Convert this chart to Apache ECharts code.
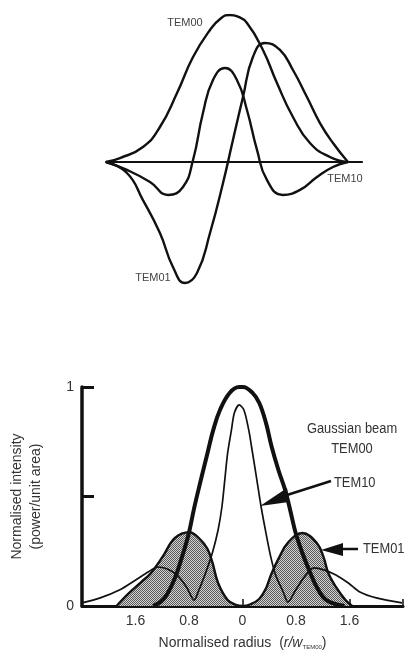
<!DOCTYPE html>
<html><head><meta charset="utf-8">
<script src="https://cdn.jsdelivr.net/npm/echarts@6/dist/echarts.min.js"></script>
<style>html,body{margin:0;padding:0;background:#fff}#c{width:406px;height:654px}</style>
</head><body><div id="c"></div>
<script>
// ---- Top chart: field amplitude profiles (x: normalised position, y: amplitude)
const topTEM00 = [[-1,0],[-0.887,0.027],[-0.702,0.102],[-0.565,0.238],[-0.427,0.469],[-0.298,0.714],[-0.161,0.898],[-0.07,0.98],[0,1.0],[0.06,0.99],[0.137,0.946],[0.266,0.762],[0.379,0.537],[0.508,0.306],[0.645,0.129],[0.806,0.034],[0.952,0]];
const topTEM01 = [[-1,0],[-0.831,-0.075],[-0.702,-0.259],[-0.565,-0.483],[-0.46,-0.714],[-0.363,-0.823],[-0.266,-0.755],[-0.161,-0.483],[-0.056,-0.143],[0.024,0.15],[0.105,0.442],[0.185,0.714],[0.282,0.81],[0.403,0.762],[0.508,0.626],[0.621,0.442],[0.726,0.265],[0.831,0.129],[0.952,0]];
const topTEM10 = [[-1,0],[-0.831,-0.054],[-0.645,-0.136],[-0.5,-0.224],[-0.379,-0.17],[-0.298,0.014],[-0.218,0.333],[-0.137,0.558],[-0.04,0.639],[0.056,0.558],[0.137,0.354],[0.218,0.082],[0.298,-0.122],[0.427,-0.224],[0.565,-0.19],[0.702,-0.102],[0.831,-0.034],[0.952,0]];
const topLabels = ['TEM00','TEM10','TEM01'];

// ---- Bottom chart: normalised intensity vs normalised radius
const botTEM00 = [[-1.34,0],[-1.22,0.02],[-1.125,0.055],[-1.01,0.128],[-0.91,0.219],[-0.809,0.324],[-0.723,0.447],[-0.623,0.575],[-0.523,0.699],[-0.437,0.804],[-0.337,0.895],[-0.193,0.973],[-0.05,1.0],[0.007,1.0],[0.15,0.973],[0.251,0.927],[0.351,0.836],[0.437,0.726],[0.537,0.621],[0.637,0.53],[0.723,0.425],[0.795,0.333],[0.895,0.242],[0.996,0.164],[1.11,0.087],[1.254,0.027],[1.526,0]];
const botTEM10 = [[-2.4,0.014],[-2.127,0.037],[-1.841,0.073],[-1.597,0.119],[-1.411,0.155],[-1.268,0.178],[-1.125,0.169],[-0.981,0.142],[-0.838,0.087],[-0.723,0.027],[-0.652,0.073],[-0.552,0.151],[-0.451,0.242],[-0.365,0.347],[-0.308,0.452],[-0.265,0.575],[-0.222,0.699],[-0.165,0.804],[-0.122,0.881],[-0.05,0.918],[0.021,0.895],[0.093,0.804],[0.136,0.726],[0.208,0.589],[0.279,0.452],[0.351,0.333],[0.423,0.224],[0.494,0.142],[0.609,0.064],[0.68,0.018],[0.795,0.073],[0.924,0.132],[1.067,0.174],[1.225,0.164],[1.397,0.142],[1.583,0.105],[1.755,0.064],[2.0,0.037],[2.385,0.014]];
const botTEM01 = [[-1.884,0],[-1.698,0.059],[-1.511,0.11],[-1.368,0.151],[-1.196,0.224],[-1.01,0.311],[-0.795,0.337],[-0.623,0.301],[-0.523,0.26],[-0.451,0.2],[-0.365,0.105],[-0.222,0.027],[-0.1,0.005],[0.007,0],[0.12,0.008],[0.25,0.032],[0.35,0.08],[0.43,0.145],[0.537,0.215],[0.681,0.29],[0.895,0.333],[1.11,0.288],[1.211,0.224],[1.282,0.151],[1.397,0.087],[1.54,0.027],[1.64,0]];
const xTicks = [-1.6,-0.8,0,0.8,1.6];
const yTicks = [0,1];
const annGaussian = 'Gaussian beam\nTEM00';
const annTEM10 = 'TEM10';
const annTEM01 = 'TEM01';

const FONT = "'Liberation Sans Narrow','Liberation Sans',Arial,sans-serif";
const INK = '#111';
const TXT = '#333';

// hatch pattern for TEM01 fill
const pc = document.createElement('canvas');
pc.width = 2; pc.height = 2;
const px = pc.getContext('2d');
px.fillStyle = '#d2d2d2'; px.fillRect(0,0,2,2);
px.fillStyle = '#5a5a5a'; px.fillRect(0,0,1,1); px.fillRect(1,1,1,1);

const chart = echarts.init(document.getElementById('c'), null, {renderer:'canvas'});
const fmtX = v => {
  const r = Math.round(Math.abs(v)*10)/10;
  return xTicks.some(t => Math.abs(Math.abs(t)-r) < 1e-6) ? (r === 0 ? '0' : r.toFixed(1)) : '';
};
const fmtY = v => yTicks.indexOf(Math.round(v*10)/10) >= 0 ? String(Math.round(v)) : '';

chart.setOption({
  animation: false,
  backgroundColor: '#fff',
  grid: [
    {left:106, top:15, width:256, height:294},
    {left:71, top:387, width:335, height:219}
  ],
  xAxis: [
    {gridIndex:0, type:'value', min:-1, max:1.065, axisLine:{show:true,onZero:true,lineStyle:{color:INK,width:2.2}}, axisTick:{show:false}, axisLabel:{show:false}, splitLine:{show:false}},
    {gridIndex:1, type:'value', min:-2.4, max:2.4, interval:0.8,
     axisLine:{show:true,onZero:false,lineStyle:{color:INK,width:3}},
     axisTick:{show:true,inside:true,length:7,lineStyle:{color:INK,width:1.5}},
     axisLabel:{formatter:fmtX,color:TXT,fontFamily:FONT,fontSize:14,margin:8},
     splitLine:{show:false},
     name:'{n|Normalised radius  (}{i|r/w}{s|TEM00}{n|)}', nameLocation:'middle', nameGap:30,
     nameTextStyle:{rich:{n:{fontFamily:FONT,fontSize:14,color:TXT},i:{fontFamily:FONT,fontSize:14,fontStyle:'italic',color:TXT},s:{fontFamily:FONT,fontSize:6,color:TXT,padding:[8,0,0,0]}}}}
  ],
  yAxis: [
    {gridIndex:0, type:'value', min:-1, max:1, show:false},
    {gridIndex:1, type:'value', min:0, max:1, interval:0.5,
     axisLine:{show:true,onZero:false,lineStyle:{color:INK,width:3.5}},
     axisTick:{show:true,inside:true,length:12,lineStyle:{color:INK,width:3}},
     axisLabel:{formatter:fmtY,color:TXT,fontFamily:FONT,fontSize:14,margin:8},
     splitLine:{show:false},
     name:'Normalised intensity\n(power/unit area)', nameLocation:'middle', nameGap:36, nameRotate:90,
     nameTextStyle:{fontFamily:FONT,fontSize:14,color:TXT,lineHeight:19}}
  ],
  series: [
    {type:'line', xAxisIndex:0, yAxisIndex:0, data:topTEM00, smooth:0.5, symbol:'none', lineStyle:{color:INK,width:2.4}},
    {type:'line', xAxisIndex:0, yAxisIndex:0, data:topTEM01, smooth:0.5, symbol:'none', lineStyle:{color:INK,width:2.4}},
    {type:'line', xAxisIndex:0, yAxisIndex:0, data:topTEM10, smooth:0.5, symbol:'none', lineStyle:{color:INK,width:2.4}},
    {type:'line', xAxisIndex:1, yAxisIndex:1, data:botTEM01, smooth:0.4, symbol:'none', lineStyle:{color:INK,width:2.4},
     areaStyle:{color:{image:pc,repeat:'repeat'},opacity:1}},
    {type:'line', xAxisIndex:1, yAxisIndex:1, data:botTEM10, smooth:0.3, symbol:'none', lineStyle:{color:INK,width:1.7}},
    {type:'line', xAxisIndex:1, yAxisIndex:1, data:botTEM00, smooth:0.4, symbol:'none', lineStyle:{color:INK,width:4}}
  ],
  graphic: [
    {type:'text', x:185, y:23, style:{text:topLabels[0], font:'11px '+FONT, fill:'#444', textAlign:'center', textVerticalAlign:'middle'}},
    {type:'text', x:345, y:179, style:{text:topLabels[1], font:'11px '+FONT, fill:'#444', textAlign:'center', textVerticalAlign:'middle'}},
    {type:'text', x:153, y:278, style:{text:topLabels[2], font:'11px '+FONT, fill:'#444', textAlign:'center', textVerticalAlign:'middle'}},
    {type:'text', x:352, y:439, scaleX:0.92, style:{text:annGaussian, font:'14px '+FONT, fill:TXT, textAlign:'center', textVerticalAlign:'middle', lineHeight:20}},
    {type:'text', x:334, y:483, scaleX:0.92, style:{text:annTEM10, font:'14px '+FONT, fill:TXT, textAlign:'left', textVerticalAlign:'middle'}},
    {type:'text', x:363, y:549, scaleX:0.92, style:{text:annTEM01, font:'14px '+FONT, fill:TXT, textAlign:'left', textVerticalAlign:'middle'}},
    {type:'line', shape:{x1:331,y1:481,x2:287,y2:495}, style:{stroke:INK,lineWidth:2.5}},
    {type:'polygon', shape:{points:[[260,506],[287,488],[289,502]]}, style:{fill:INK}},
    {type:'line', shape:{x1:358,y1:549,x2:342,y2:549}, style:{stroke:INK,lineWidth:2.5}},
    {type:'polygon', shape:{points:[[321,550],[343,543],[343,556]]}, style:{fill:INK}}
  ]
});
</script></body></html>
